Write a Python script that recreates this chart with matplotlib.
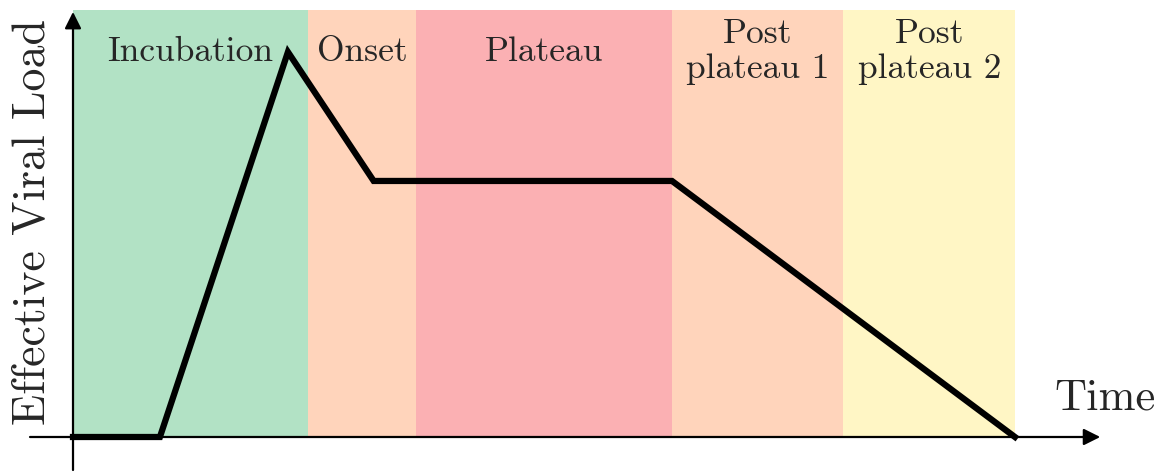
import matplotlib
matplotlib.use('Agg')
import matplotlib.pyplot as plt

# phases of the infection, boundaries in time units
phase_names = ['Incubation', 'Onset', 'Plateau', 'Post\nplateau 1', 'Post\nplateau 2']
phase_edges = [0, 10.0, 14.6, 25.5, 32.8, 40.1]
phase_colors = ['#b2e2c5', '#ffd4bb', '#fbb0b3', '#ffd4bb', '#fff6c5']

# viral load curve
load_t = [0, 3.7, 9.15, 12.8, 25.5, 40.1]
load_v = [0, 0, 1.0, 0.665, 0.665, 0]

plt.rcParams['font.family'] = 'cmr10'
plt.rcParams['axes.unicode_minus'] = False

fig = plt.figure(figsize=(11.58, 4.75), dpi=100)
ax = fig.add_axes([0, 0, 1, 1])
ax.set_xlim(-3.108, 46.19)
ax.set_ylim(-0.0987, 1.135)
ax.axis('off')

# colored phase bands
widths = [phase_edges[i+1] - phase_edges[i] for i in range(len(phase_names))]
ax.bar(phase_edges[:-1], 1.109, width=widths, align='edge', color=phase_colors,
       linewidth=0, zorder=1)

# phase labels
for i in range(len(phase_names)):
    xc = (phase_edges[i] + phase_edges[i+1]) / 2
    ax.text(xc, 1.0, phase_names[i], ha='center', va='center', fontsize=25.5,
            color='#262626', linespacing=1.12, zorder=3)

# axes with arrows
ax.annotate('', xy=(43.73, 0), xytext=(-1.83, 0),
            arrowprops=dict(arrowstyle='-|>', color='black', lw=1.6,
                            mutation_scale=25, shrinkA=0, shrinkB=0), zorder=4)
ax.annotate('', xy=(0, 1.104), xytext=(0, -0.0857),
            arrowprops=dict(arrowstyle='-|>', color='black', lw=1.6,
                            mutation_scale=25, shrinkA=0, shrinkB=0), zorder=4)

# curve
ax.plot(load_t, load_v, color='black', lw=4.5, solid_joinstyle='miter', zorder=5)

ax.text(46.1, 0.1, 'Time', ha='right', va='center', fontsize=32, color='#262626')
ax.text(-1.72, 0.558, 'Effective Viral Load', ha='center', va='center', rotation=90,
        fontsize=33, color='#262626')

plt.savefig('out.png', dpi=100)
